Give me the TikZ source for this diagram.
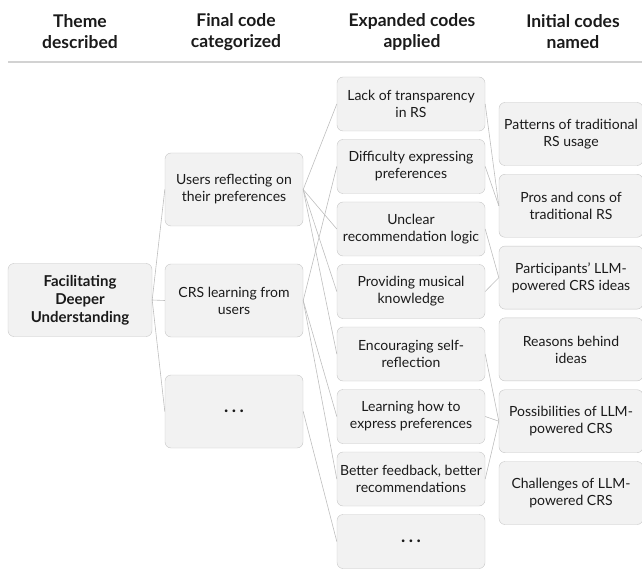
\documentclass[tikz,border=0pt]{standalone}
\usepackage{fontspec}
\setmainfont{Lato}
\definecolor{boxfill}{HTML}{F2F2F2}
\definecolor{boxline}{HTML}{C6C6C6}
\definecolor{linkgray}{HTML}{BEBEBE}
\definecolor{rulegray}{HTML}{D2D2D2}
\definecolor{inkdark}{HTML}{1A1A1A}
\newcommand{\moredots}{{\fontsize{18}{18}\selectfont\bfseries .\hspace{3.5pt}.\hspace{3.5pt}.}}
\tikzset{
  code/.style={draw=boxline, fill=boxfill, rounded corners=6pt, align=center,
    text=inkdark, font=\fontsize{14}{17}\selectfont, inner sep=2pt},
  themebox/.style={code, minimum width=144pt, minimum height=73pt,
    font=\fontsize{15}{18}\selectfont\bfseries},
  finalbox/.style={code, minimum width=138pt, minimum height=73pt},
  expbox/.style={code, minimum width=148pt, minimum height=54pt},
  initbox/.style={code, minimum width=144pt, minimum height=63pt},
  head/.style={align=center, text=inkdark, font=\fontsize{17.5}{21}\selectfont\bfseries},
  link/.style={draw=linkgray, line width=0.6pt}
}
\begin{document}
\begin{tikzpicture}[x=1pt,y=-1pt]
\useasboundingbox (0,0) rectangle (642,569);

% column heads
\node[head] (h1) at (80,32) {Theme\\described};
\node[head] (h2) at (236,32) {Final code\\categorized};
\node[head] (h3) at (412,32) {Expanded codes\\applied};
\node[head] (h4) at (573,32) {Initial codes\\named};
\draw[rulegray, line width=1.5pt] (8,62) -- (642,62);

% theme
\node[themebox] (theme) at (80,300) {Facilitating\\Deeper\\Understanding};

% final codes
\node[finalbox] (users) at (234,189.5) {Users reflecting on\\their preferences};
\node[finalbox] (learn) at (234,300.5) {CRS learning from\\users};
\node[finalbox] (fmore) at (234,411.5) {\moredots};

% expanded codes
\node[expbox] (lack) at (411,104) {Lack of transparency\\in RS};
\node[expbox] (diff) at (411,166.5) {Difficulty expressing\\preferences};
\node[expbox] (uncl) at (411,229) {Unclear\\recommendation logic};
\node[expbox] (musk) at (411,291.5) {Providing musical\\knowledge};
\node[expbox] (self) at (411,354) {Encouraging self-\\reflection};
\node[expbox] (expr) at (411,416.5) {Learning how to\\express preferences};
\node[expbox] (feed) at (411,479) {Better feedback, better\\recommendations};
\node[expbox] (emore) at (411,541.5) {\moredots};

% initial codes
\node[initbox] (patt) at (571,134) {Patterns of traditional\\RS usage};
\node[initbox] (pros) at (571,205.8) {Pros and cons of\\traditional RS};
\node[initbox] (idea) at (571,277.6) {Participants' LLM-\\powered CRS ideas};
\node[initbox] (reas) at (571,349.4) {Reasons behind\\ideas};
\node[initbox] (poss) at (571,421.2) {Possibilities of LLM-\\powered CRS};
\node[initbox] (chal) at (571,493) {Challenges of LLM-\\powered CRS};

% links
\draw[link] (theme.east) -- (users.west);
\draw[link] (theme.east) -- (learn.west);
\draw[link] (theme.east) -- (fmore.west);

\draw[link] (users.east) -- (lack.west);
\draw[link] (users.east) -- (uncl.west);
\draw[link] (users.east) -- (musk.west);
\draw[link] (users.east) -- (self.west);
\draw[link] (learn.east) -- (diff.west);
\draw[link] (learn.east) -- (expr.west);
\draw[link] (learn.east) -- (feed.west);
\draw[link] (fmore.east) -- (emore.west);

\draw[link] (lack.east) -- (pros.west);
\draw[link] (diff.east) -- (pros.west);
\draw[link] (uncl.east) -- (idea.west);
\draw[link] (musk.east) -- (idea.west);
\draw[link] (self.east) -- (poss.west);
\draw[link] (expr.east) -- (poss.west);
\draw[link] (feed.east) -- (poss.west);
\end{tikzpicture}
\end{document}
